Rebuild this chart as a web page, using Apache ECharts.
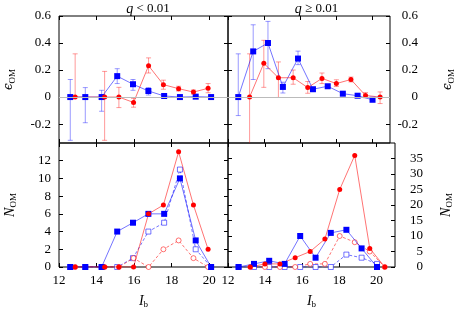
<!DOCTYPE html>
<html><head><meta charset="utf-8">
<script src="https://cdn.jsdelivr.net/npm/echarts@6/dist/echarts.min.js"></script>
<style>html,body{margin:0;padding:0;background:#fff}#c{width:457px;height:310px}</style>
</head><body><div id="c"></div>
<script>
// ---- tick values ----
const xTicks = [12, 14, 16, 18, 20];
const epsTicks = [-0.2, 0, 0.2, 0.4, 0.6];
const nLeftTicks = [0, 2, 4, 6, 8, 10, 12];
const nRightTicks = [0, 5, 10, 15, 20, 25, 30, 35];
const panelTitles = ['q < 0.01', 'q ≥ 0.01'];

// ---- q < 0.01 (left) ----
const L_blueMag   = [12.6, 13.4, 14.27, 15.1, 15.94, 16.76, 17.6, 18.44, 19.28, 20.1];
const L_blueEps   = [0, 0, 0, 0.155, 0.095, 0.045, 0.008, 0, 0.003, 0];
const L_blueEpsLo = [-0.32, -0.19, -0.105, 0.10, 0.05, 0.015, 0.0, -0.005, -0.003, -0.007];
const L_blueEpsHi = [0.13, 0.07, 0.05, 0.21, 0.13, 0.07, 0.016, 0.005, 0.009, 0.007];
const L_redMag    = [12.86, 14.43, 15.19, 15.97, 16.77, 17.56, 18.37, 19.16, 19.94];
const L_redEps    = [0, 0, 0, -0.04, 0.232, 0.092, 0.062, 0.037, 0.065];
const L_redEpsLo  = [0, -0.32, -0.078, -0.075, 0.178, 0.058, 0.045, 0.022, 0.032];
const L_redEpsHi  = [0.32, 0.19, 0.072, -0.01, 0.29, 0.125, 0.08, 0.052, 0.10];
const L_blueN     = [0, 0, 0, 4, 5, 6, 6, 10, 3, 0];
const L_blueOpenN = [0, 0, 0, 0, 1, 4, 5, 11, 2, 0];
const L_redN      = [0, 0, 0, 0, 6, 7, 13, 7, 2];
const L_redOpenN  = [0, 0, 0, 1, 0, 2, 3, 1, 0];

// ---- q >= 0.01 (right) ----
const R_blueMag   = [12.57, 13.4, 14.22, 15.05, 15.89, 16.72, 17.54, 18.38, 19.2, 20.03];
const R_blueEps   = [0, 0.338, 0.40, 0.075, 0.285, 0.058, 0.08, 0.025, 0.01, -0.02];
const R_blueEpsLo = [-0.137, 0.13, 0.21, 0.03, 0.24, 0.045, 0.07, 0.015, 0.003, -0.03];
const R_blueEpsHi = [0.32, 0.535, 0.56, 0.11, 0.34, 0.07, 0.09, 0.035, 0.017, -0.01];
const R_redMag    = [13.2, 13.99, 14.8, 15.62, 16.43, 17.22, 18.02, 18.83, 19.64, 20.45];
const R_redEps    = [0, 0.25, 0.143, 0.143, 0.07, 0.138, 0.10, 0.13, 0.012, 0];
const R_redEpsLo  = [-0.36, 0.072, -0.003, 0.095, 0.028, 0.10, 0.078, 0.112, -0.005, -0.048];
const R_redEpsHi  = [0.32, 0.42, 0.26, 0.20, 0.115, 0.178, 0.128, 0.148, 0.033, 0.038];
const R_blueN     = [0, 1, 2, 1, 10, 3, 11, 12, 6, 0];
const R_blueOpenN = [0, 0, 0, 0, 0, 0, 0, 4, 3, 1];
const R_redN      = [0, 1, 1, 3, 5, 9, 25, 36, 6, 0];
const R_redOpenN  = [0, 0, 0, 0, 1, 1, 10, 8, 5, 0];

const FONT = 'Liberation Serif';
const BLUE = '#0000ff', RED = '#ff0000';
const BLUE_L = 'rgba(0,0,255,0.55)', RED_L = 'rgba(255,0,0,0.55)';
const BLUE_E = 'rgba(0,0,255,0.4)', RED_E = 'rgba(255,0,0,0.4)';

const zip = (a, b) => a.map((v, i) => [v, b[i]]);
const zip3 = (a, b, c) => a.map((v, i) => [v, b[i], c[i]]);

const chart = echarts.init(document.getElementById('c'), null, {renderer: 'canvas'});

const grids = [
  {left: 59, top: 16, width: 169, height: 127},
  {left: 228, top: 16, width: 167, height: 127},
  {left: 59, top: 143, width: 169, height: 127},
  {left: 228, top: 143, width: 167, height: 127}
].map(g => Object.assign(g, {show: true, borderColor: '#000', borderWidth: 1, backgroundColor: 'transparent'}));

const subRich = {
  i: {fontFamily: FONT, fontStyle: 'italic', fontWeight: 'normal', fontSize: 14, lineHeight: 16, color: '#000'},
  e: {fontFamily: 'DejaVu Serif', fontStyle: 'italic', fontWeight: 'normal', fontSize: 12, lineHeight: 16, color: '#000'},
  s: {fontFamily: FONT, fontWeight: 'normal', fontSize: 9, lineHeight: 9, verticalAlign: 'bottom', color: '#000'}
};

function tick(vals) {
  return {show: true, inside: true, length: 4, customValues: vals, lineStyle: {color: '#000', width: 1}};
}
function xAx(grid, pos, labels, name) {
  return {
    type: 'value', gridIndex: grid, position: pos, min: 12, max: 21,
    axisLine: {show: false, onZero: false}, splitLine: {show: false},
    axisTick: tick(xTicks),
    axisLabel: labels ? {show: true, customValues: xTicks, margin: 7, fontFamily: FONT, fontSize: 13, color: '#000'} : {show: false},
    name: name || '', nameLocation: 'middle', nameGap: 26,
    nameTextStyle: {rich: subRich}
  };
}
function yAx(grid, pos, min, max, ticks, labels, name, margin, gap) {
  return {
    type: 'value', gridIndex: grid, position: pos, min: min, max: max,
    axisLine: {show: false, onZero: false}, splitLine: {show: false},
    axisTick: tick(ticks),
    axisLabel: labels ? {show: true, customValues: ticks, margin: margin, align: 'right',
      fontFamily: FONT, fontSize: 13, color: '#000', formatter: v => String(v)} : {show: false},
    name: name || '', nameLocation: 'middle', nameRotate: 90, nameGap: gap || 40,
    nameTextStyle: {rich: subRich}
  };
}

const EPS_MIN = -0.34, EPS_MAX = 0.6;
const epsName = '{e|ϵ}{s|OM}';
const nName = '{i|N}{s|OM}';
const ibName = '{i|I}{s|b}';

const xAxis = [
  xAx(0, 'bottom', false), xAx(0, 'top', false),
  xAx(1, 'bottom', false), xAx(1, 'top', false),
  xAx(2, 'bottom', true, ibName), xAx(2, 'top', false),
  xAx(3, 'bottom', true, ibName), xAx(3, 'top', false)
];
const yAxis = [
  yAx(0, 'left', EPS_MIN, EPS_MAX, epsTicks, true, epsName, 8, 42),
  yAx(0, 'right', EPS_MIN, EPS_MAX, epsTicks, false),
  yAx(1, 'right', EPS_MIN, EPS_MAX, epsTicks, true, epsName, 28, 50),
  yAx(1, 'left', EPS_MIN, EPS_MAX, epsTicks, false),
  yAx(2, 'left', 0, 14, nLeftTicks, true, nName, 8, 41),
  yAx(2, 'right', 0, 14, nLeftTicks, false),
  yAx(3, 'right', 0, 40, nRightTicks, true, nName, 28, 43),
  yAx(3, 'left', 0, 40, nRightTicks, false)
];

function errSeries(ax, data, color) {
  return {
    type: 'custom', xAxisIndex: ax, yAxisIndex: ax, clip: true, z: 2,
    data: data, encode: {x: 0, y: [1, 2]},
    renderItem: function (params, api) {
      const x = api.value(0);
      const p1 = api.coord([x, api.value(1)]);
      const p2 = api.coord([x, api.value(2)]);
      const w = 2.5;
      const st = {stroke: color, lineWidth: 1};
      return {type: 'group', children: [
        {type: 'line', shape: {x1: p1[0], y1: p1[1], x2: p2[0], y2: p2[1]}, style: st},
        {type: 'line', shape: {x1: p1[0] - w, y1: p1[1], x2: p1[0] + w, y2: p1[1]}, style: st},
        {type: 'line', shape: {x1: p2[0] - w, y1: p2[1], x2: p2[0] + w, y2: p2[1]}, style: st}
      ]};
    }
  };
}
function lineSeries(ax, data, color, lineColor, symbol, open, dashed) {
  return {
    type: 'line', xAxisIndex: ax, yAxisIndex: ax, data: data,
    symbol: symbol, symbolSize: open ? 5 : (symbol === 'rect' ? 6 : 5),
    showAllSymbol: true, z: open ? 3 : 4,
    lineStyle: {color: lineColor, width: 1, type: dashed ? [3, 2] : 'solid'},
    itemStyle: open ? {color: '#fff', borderColor: lineColor, borderWidth: 1} : {color: color, borderWidth: 0},
    emphasis: {disabled: true}, animation: false
  };
}
function zeroLine(ax) {
  return {
    type: 'line', xAxisIndex: ax, yAxisIndex: ax, data: [], silent: true,
    markLine: {silent: true, symbol: 'none', label: {show: false},
      lineStyle: {color: '#bbbbbb', width: 1, type: 'solid'}, data: [{yAxis: 0}]}
  };
}

const series = [
  zeroLine(0), zeroLine(2),
  errSeries(0, zip3(L_blueMag, L_blueEpsLo, L_blueEpsHi), BLUE_E),
  errSeries(0, zip3(L_redMag, L_redEpsLo, L_redEpsHi), RED_E),
  lineSeries(0, zip(L_blueMag, L_blueEps), BLUE, BLUE_L, 'rect'),
  lineSeries(0, zip(L_redMag, L_redEps), RED, RED_L, 'circle'),
  errSeries(2, zip3(R_blueMag, R_blueEpsLo, R_blueEpsHi), BLUE_E),
  errSeries(2, zip3(R_redMag, R_redEpsLo, R_redEpsHi), RED_E),
  lineSeries(2, zip(R_blueMag, R_blueEps), BLUE, BLUE_L, 'rect'),
  lineSeries(2, zip(R_redMag, R_redEps), RED, RED_L, 'circle'),
  lineSeries(4, zip(L_blueMag, L_blueOpenN), BLUE, BLUE_L, 'rect', true, true),
  lineSeries(4, zip(L_redMag, L_redOpenN), RED, RED_L, 'circle', true, true),
  lineSeries(4, zip(L_blueMag, L_blueN), BLUE, BLUE_L, 'rect'),
  lineSeries(4, zip(L_redMag, L_redN), RED, RED_L, 'circle'),
  lineSeries(6, zip(R_blueMag, R_blueOpenN), BLUE, BLUE_L, 'rect', true, true),
  lineSeries(6, zip(R_redMag, R_redOpenN), RED, RED_L, 'circle', true, true),
  lineSeries(6, zip(R_blueMag, R_blueN), BLUE, BLUE_L, 'rect'),
  lineSeries(6, zip(R_redMag, R_redN), RED, RED_L, 'circle')
];

const titleRich = {
  i: {fontFamily: FONT, fontStyle: 'italic', fontWeight: 'normal', fontSize: 14, color: '#000'},
  n: {fontFamily: FONT, fontWeight: 'normal', fontSize: 13, color: '#000'}
};
const title = panelTitles.map((t, k) => ({
  text: '{i|' + t.slice(0, 1) + '}{n|' + t.slice(1) + '}',
  left: k === 0 ? 143 : 311.5, top: -3, textAlign: 'center',
  textStyle: {fontWeight: 'normal', rich: titleRich}
}));

chart.setOption({animation: false, title, grid: grids, xAxis, yAxis, series});
</script>
</body></html>
